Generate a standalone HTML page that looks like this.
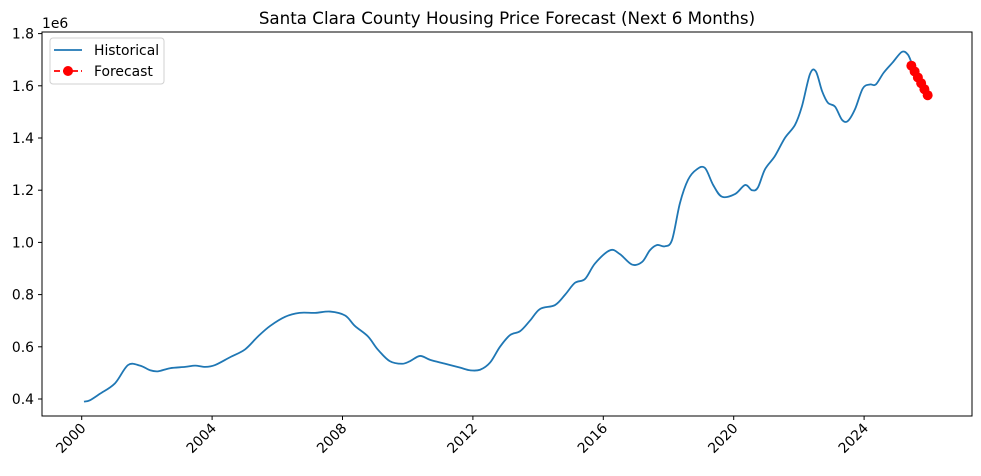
<!DOCTYPE html>
<html><head><meta charset="utf-8"><style>
body{margin:0;background:#fff;}
svg text{font-family:"DejaVu Sans","Liberation Sans",sans-serif;fill:#000;}
</style></head><body>
<svg id="chart" width="981" height="471" xmlns="http://www.w3.org/2000/svg">
<text x="507" y="24" font-size="16.7" text-anchor="middle">Santa Clara County Housing Price Forecast (Next 6 Months)</text>
<text x="42" y="28" font-size="13.9">1e6</text>
<g id="axes"></g>
<g id="marks"></g>
<rect x="42" y="32" width="930" height="384" fill="none" stroke="#000" stroke-width="1"/>
<g>
<rect x="50" y="38" width="114" height="46" rx="3" fill="#fff" fill-opacity="0.8" stroke="#d0d0d0"/>
<g>
<line x1="54" y1="50" x2="82" y2="50" stroke="#1f77b4" stroke-width="1.8"/>
<text x="94" y="55" font-size="13.9">Historical</text></g>
<g>
<line x1="54" y1="71" x2="82" y2="71" stroke="red" stroke-width="1.8" stroke-dasharray="6,3"/>
<circle cx="68" cy="71" r="5" fill="red"/>
<text x="94" y="76" font-size="13.9">Forecast</text></g>
</g>
</svg>
<script>
const histYears=[2000.07,2000.25,2000.56,2001.02,2001.42,2001.79,2002.10,2002.34,2002.71,2003.17,2003.48,2003.79,2004.09,2004.55,2005.01,2005.41,2005.78,2006.24,2006.68,2007.16,2007.62,2008.08,2008.38,2008.78,2009.08,2009.45,2009.83,2010.07,2010.38,2010.69,2011.15,2011.61,2011.91,2012.22,2012.53,2012.83,2013.14,2013.45,2013.75,2014.06,2014.52,2014.83,2015.13,2015.44,2015.75,2016.21,2016.51,2016.88,2017.19,2017.43,2017.65,2017.89,2018.11,2018.35,2018.60,2018.87,2019.12,2019.37,2019.64,2020.04,2020.35,2020.56,2020.74,2020.96,2021.26,2021.57,2021.88,2022.09,2022.34,2022.52,2022.71,2022.89,2023.11,2023.32,2023.50,2023.72,2023.96,2024.18,2024.36,2024.60,2024.88,2025.16,2025.34,2025.45];
const histValues=[0.39,0.395,0.42,0.46,0.53,0.528,0.51,0.506,0.518,0.523,0.528,0.523,0.53,0.56,0.59,0.64,0.68,0.715,0.73,0.73,0.735,0.72,0.68,0.64,0.59,0.545,0.535,0.545,0.565,0.55,0.535,0.52,0.51,0.512,0.54,0.60,0.645,0.66,0.70,0.745,0.76,0.80,0.845,0.86,0.92,0.97,0.955,0.915,0.925,0.97,0.99,0.985,1.01,1.15,1.24,1.28,1.285,1.22,1.175,1.185,1.22,1.20,1.21,1.28,1.33,1.40,1.45,1.52,1.645,1.655,1.58,1.535,1.52,1.47,1.465,1.51,1.59,1.605,1.605,1.65,1.69,1.73,1.72,1.69];
const fcYears=[2025.45,2025.55,2025.65,2025.75,2025.85,2025.95];
const fcValues=[1.677,1.655,1.632,1.61,1.587,1.564];
const yTicks=[0.4,0.6,0.8,1.0,1.2,1.4,1.6,1.8];
const xTicks=[2000,2004,2008,2012,2016,2020,2024];
const NS="http://www.w3.org/2000/svg";
const X=y=>81.7+(y-2000)*32.6;
const Y=v=>399-(v-0.4)*261;
const axes=document.getElementById('axes'),marks=document.getElementById('marks');
function mk(t,a,p){const e=document.createElementNS(NS,t);for(const k in a)e.setAttribute(k,a[k]);p.appendChild(e);return e;}
yTicks.forEach(v=>{const g=mk('g',{},axes);


mk('line',{x1:38,x2:42,y1:Y(v),y2:Y(v),stroke:'#000'},g);
const t=mk('text',{x:34,y:Y(v)+5,'font-size':13.9,'text-anchor':'end'},g);t.textContent=v.toFixed(1);});
xTicks.forEach(v=>{const g=mk('g',{},axes);


mk('line',{x1:X(v),x2:X(v),y1:416,y2:420,stroke:'#000'},g);
const t=mk('text',{x:X(v)+5,y:429,'font-size':13.9,'text-anchor':'end',transform:`rotate(-45 ${X(v)+5} 429)`},g);t.textContent=v;});
const pts=histYears.map((y,i)=>[X(y),Y(histValues[i])]);
let d=`M${pts[0][0]},${pts[0][1]}`;
for(let i=0;i<pts.length-1;i++){const p0=pts[Math.max(0,i-1)],p1=pts[i],p2=pts[i+1],p3=pts[Math.min(pts.length-1,i+2)];
d+=`C${p1[0]+(p2[0]-p0[0])/6},${p1[1]+(p2[1]-p0[1])/6} ${p2[0]-(p3[0]-p1[0])/6},${p2[1]-(p3[1]-p1[1])/6} ${p2[0]},${p2[1]}`;}
const hl=mk('path',{d:d,fill:'none',stroke:'#1f77b4','stroke-width':1.8},marks);


const fl=mk('polyline',{points:fcYears.map((y,i)=>X(y)+','+Y(fcValues[i])).join(' '),fill:'none',stroke:'red','stroke-width':1.8,'stroke-dasharray':'6,3'},marks);


fcYears.forEach((y,i)=>{const c=mk('circle',{cx:X(y),cy:Y(fcValues[i]),r:5,fill:'red'},marks);

});
</script>
</body></html>
